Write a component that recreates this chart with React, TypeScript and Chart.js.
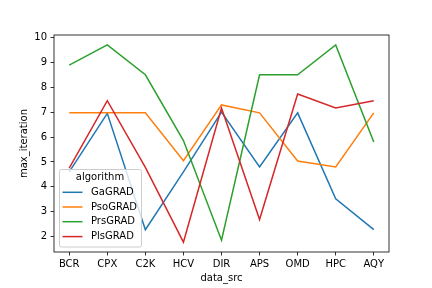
import React, { useEffect, useRef } from "react";
import { Chart, registerables } from "chart.js";

Chart.register(...registerables);

const categories = ["BCR", "CPX", "C2K", "HCV", "DIR", "APS", "OMD", "HPC", "AQY"];
const seriesNames = ["GaGRAD", "PsoGRAD", "PrsGRAD", "PlsGRAD"];
const gaGRAD = [4.6, 6.95, 2.28, 4.6, 7.0, 4.8, 6.97, 3.52, 2.28];
const psoGRAD = [6.97, 6.97, 6.97, 5.05, 7.29, 6.97, 5.04, 4.8, 6.97];
const prsGRAD = [8.89, 9.7, 8.5, 5.86, 1.86, 8.5, 8.5, 9.7, 5.8];
const plsGRAD = [4.75, 7.46, 4.78, 1.78, 7.16, 2.69, 7.73, 7.17, 7.46];
const yTicks = [2, 3, 4, 5, 6, 7, 8, 9, 10];
const colors = ["#1f77b4", "#ff7f0e", "#2ca02c", "#d62728"];
const legendTitle = "algorithm";
const xTitle = "data_src";
const yTitle = "max_iteration";

const FONT = "DejaVu Sans";

export default function App() {
  const ref = useRef<HTMLCanvasElement | null>(null);
  useEffect(() => {
    document.body.style.margin = "0";
    const all = [gaGRAD, psoGRAD, prsGRAD, plsGRAD];
    let mn = Infinity, mx = -Infinity;
    all.forEach((a) => a.forEach((v) => { mn = Math.min(mn, v); mx = Math.max(mx, v); }));
    const pad = (mx - mn) * 0.05;
    const n = categories.length;
    const decor = {
      id: "decor",
      afterDraw(chart: any) {
        const ctx = chart.ctx;
        const a = chart.chartArea;
        ctx.save();
        ctx.strokeStyle = "#000";
        ctx.lineWidth = 0.8;
        ctx.strokeRect(a.left, a.top, a.right - a.left, a.bottom - a.top);
        // axis titles
        ctx.fillStyle = "#000";
        ctx.font = `10px "${FONT}"`;
        ctx.textAlign = "center";
        ctx.textBaseline = "middle";
        ctx.fillText(xTitle, (a.left + a.right) / 2, 278);
        ctx.save();
        ctx.translate(24, (a.top + a.bottom) / 2);
        ctx.rotate(-Math.PI / 2);
        ctx.fillText(yTitle, 0, 0);
        ctx.restore();
        // legend
        const lx = 59, ly = 169, lw = 82, lh = 77.5;
        ctx.beginPath();
        (ctx as any).roundRect(lx + 0.5, ly + 0.5, lw, lh, 2);
        ctx.fillStyle = "rgba(255,255,255,0.8)";
        ctx.fill();
        ctx.strokeStyle = "#cccccc";
        ctx.lineWidth = 1;
        ctx.stroke();
        ctx.fillStyle = "#000";
        ctx.textAlign = "center";
        ctx.fillText(legendTitle, lx + lw / 2, 177.5);
        const rows = [192.3, 207, 221.7, 236.6];
        seriesNames.forEach((name, i) => {
          ctx.strokeStyle = colors[i];
          ctx.lineWidth = 1.5;
          ctx.beginPath();
          ctx.moveTo(62.5, rows[i]);
          ctx.lineTo(82.5, rows[i]);
          ctx.stroke();
          ctx.fillStyle = "#000";
          ctx.textAlign = "left";
          ctx.fillText(name, 91, rows[i]);
        });
        ctx.restore();
      },
    };
    const chart = new Chart(ref.current!, {
      type: "line",
      data: {
        datasets: all.map((arr, i) => ({
          label: seriesNames[i],
          data: arr.map((v, j) => ({ x: j, y: v })),
          borderColor: colors[i],
          backgroundColor: colors[i],
          borderWidth: 1.5,
          pointRadius: 0,
          tension: 0,
          fill: false,
          order: 3 - i,
        })),
      },
      options: {
        responsive: false,
        animation: false,
        events: [],
        layout: { padding: { left: 0, top: 35, right: 43, bottom: 0 } },
        plugins: { legend: { display: false }, tooltip: { enabled: false } },
        scales: {
          x: {
            type: "linear",
            min: -0.4,
            max: n - 1 + 0.4,
            afterBuildTicks: (s: any) => {
              s.ticks = categories.map((_, i) => ({ value: i }));
            },
            afterFit: (s: any) => {
              s.height = 36;
            },
            ticks: {
              autoSkip: false,
              maxRotation: 0,
              padding: 3,
              color: "#000",
              font: { family: FONT, size: 10 },
              callback: (v: any) => categories[Math.round(v)] ?? "",
            },
            grid: {
              drawOnChartArea: false,
              drawTicks: true,
              tickLength: 3.5,
              color: "#000",
              lineWidth: 0.8,
            },
            border: { display: false },
          },
          y: {
            type: "linear",
            min: mn - pad,
            max: mx + pad,
            afterBuildTicks: (s: any) => {
              s.ticks = yTicks.map((v) => ({ value: v }));
            },
            afterFit: (s: any) => {
              s.width = 54;
            },
            ticks: {
              padding: 3.5,
              color: "#000",
              font: { family: FONT, size: 10 },
              callback: (v: any) => String(v),
            },
            grid: {
              drawOnChartArea: false,
              drawTicks: true,
              tickLength: 3.5,
              color: "#000",
              lineWidth: 0.8,
            },
            border: { display: false },
          },
        },
      },
      plugins: [decor],
    });
    return () => chart.destroy();
  }, []);
  return (
    <div style={{ position: "absolute", left: 0, top: 0, width: 432, height: 288, background: "#fff" }}>
      <canvas ref={ref} width={432} height={288} style={{ width: 432, height: 288, display: "block" }} />
    </div>
  );
}
